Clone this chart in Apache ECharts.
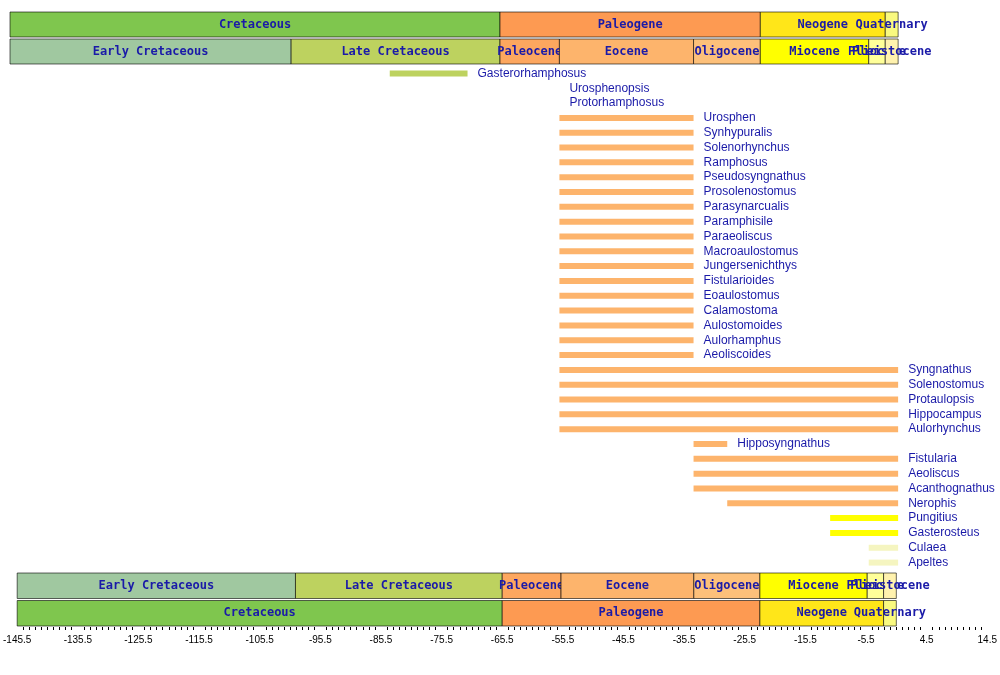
<!DOCTYPE html>
<html><head><meta charset="utf-8">
<script src="https://cdn.jsdelivr.net/npm/echarts@6/dist/echarts.min.js"></script>
<style>body{margin:0}#c{width:1000px;height:675px}</style></head>
<body><div id="c"></div>
<script>
// time scale bands: [name, start, end, colour]
var periods = [
    ['Cretaceous', -145.5, -65.5, '#7fc64e'],
    ['Paleogene', -65.5, -23.0, '#fd9a52'],
    ['Neogene', -23.0, -2.6, '#ffe619'],
    ['Quaternary', -2.6, -0.5, '#f9f97f']
];
var epochs = [
    ['Early Cretaceous', -145.5, -99.6, '#a0c8a0'],
    ['Late Cretaceous', -99.6, -65.5, '#bdd25f'],
    ['Paleocene', -65.5, -55.8, '#fda75f'],
    ['Eocene', -55.8, -33.9, '#fdb46c'],
    ['Oligocene', -33.9, -23.0, '#fdc07a'],
    ['Miocene', -23.0, -5.3, '#ffff00'],
    ['Pliocene', -5.3, -2.6, '#ffff99'],
    ['Pleistocene', -2.6, -0.5, '#fff2ae']
];
// taxa ranges
var taxa = ['Gasterorhamphosus','Urosphenopsis','Protorhamphosus','Urosphen','Synhypuralis','Solenorhynchus',
    'Ramphosus','Pseudosyngnathus','Prosolenostomus','Parasynarcualis','Paramphisile','Paraeoliscus',
    'Macroaulostomus','Jungersenichthys','Fistularioides','Eoaulostomus','Calamostoma','Aulostomoides',
    'Aulorhamphus','Aeoliscoides','Syngnathus','Solenostomus','Protaulopsis','Hippocampus','Aulorhynchus',
    'Hipposyngnathus','Fistularia','Aeoliscus','Acanthognathus','Nerophis','Pungitius','Gasterosteus',
    'Culaea','Apeltes'];
var starts = [-83.5,-55.8,-55.8,-55.8,-55.8,-55.8,-55.8,-55.8,-55.8,-55.8,-55.8,-55.8,-55.8,-55.8,-55.8,-55.8,-55.8,-55.8,
    -55.8,-55.8,-55.8,-55.8,-55.8,-55.8,-55.8,-33.9,-33.9,-33.9,-33.9,-28.4,-11.6,-11.6,-5.3,-5.3];
var ends = [-70.8,-55.8,-55.8,-33.9,-33.9,-33.9,-33.9,-33.9,-33.9,-33.9,-33.9,-33.9,-33.9,-33.9,-33.9,-33.9,-33.9,-33.9,
    -33.9,-33.9,-0.5,-0.5,-0.5,-0.5,-0.5,-28.4,-0.5,-0.5,-0.5,-0.5,-0.5,-0.5,-0.5,-0.5];
var barColors = ['#bdd25f','#fdb46c','#fdb46c'].concat(Array(27).fill('#fdb46c')).concat(['#ffff00','#ffff00','#f5f5c0','#f5f5c0']);

var txt = '#1a1aa8';
var xMin = -145.5, xMax = 14.5;

function bandSeries(rows, gridIdx) {
    var data = [];
    rows.forEach(function (r, ri) {
        r.forEach(function (b) { data.push([b[1], b[2], ri, b[0], b[3]]); });
    });
    return {
        type: 'custom', xAxisIndex: gridIdx, yAxisIndex: gridIdx, data: data,
        renderItem: function (params, api) {
            var p0 = api.coord([api.value(0), api.value(2)]);
            var p1 = api.coord([api.value(1), api.value(2)]);
            var h = api.size([0, 1])[1] - 2;
            var d = data[params.dataIndex];
            return {
                type: 'group', children: [
                    { type: 'rect', shape: { x: p0[0], y: p0[1] - h / 2, width: p1[0] - p0[0], height: h },
                      style: { fill: d[4], stroke: '#000', lineWidth: 0.6 } },
                    { type: 'text', style: { text: d[3], x: (p0[0] + p1[0]) / 2, y: p0[1], align: 'center',
                      verticalAlign: 'middle', fill: txt, font: 'bold 12px "DejaVu Sans Mono"' } }
                ]
            };
        }
    };
}

var grids = [
    { left: 10, right: 10, top: 11, height: 54 },
    { left: 10, right: 10, top: 66, height: 504 },
    { left: 10, right: 10, top: 572, height: 55 }
];
function xAx(i, show) {
    return { gridIndex: i, type: 'value', min: xMin, max: xMax, interval: 10, show: show,
        axisLine: { lineStyle: { color: '#000' } },
        axisTick: { length: 5, lineStyle: { color: '#000' } },
        minorTick: { show: true, splitNumber: 10, length: 3, lineStyle: { color: '#000' } },
        splitLine: { show: false },
        axisLabel: { fontSize: 10, color: '#000', fontFamily: 'Liberation Sans', formatter: function (v) { return v.toFixed(1); } } };
}
var taxaData = taxa.map(function (t, i) { return [starts[i], ends[i], i, t, barColors[i]]; });

var chart = echarts.init(document.getElementById('c'));
chart.setOption({
    animation: false,
    grid: grids,
    xAxis: [xAx(0, false), xAx(1, false), xAx(2, true)],
    yAxis: [
        { gridIndex: 0, type: 'category', data: ['p', 'e'], inverse: true, show: false },
        { gridIndex: 1, type: 'category', data: taxa, inverse: true, show: false },
        { gridIndex: 2, type: 'category', data: ['e', 'p'], inverse: true, show: false }
    ],
    series: [
        bandSeries([periods, epochs], 0),
        bandSeries([epochs, periods], 2),
        {
            type: 'custom', xAxisIndex: 1, yAxisIndex: 1, data: taxaData,
            renderItem: function (params, api) {
                var d = taxaData[params.dataIndex];
                var p0 = api.coord([d[0], d[2]]);
                var p1 = api.coord([d[1], d[2]]);
                return {
                    type: 'group', children: [
                        { type: 'rect', shape: { x: p0[0], y: p0[1] - 3, width: p1[0] - p0[0], height: 6 },
                          style: { fill: d[4] } },
                        { type: 'text', style: { text: d[3], x: p1[0] + 10, y: p0[1], verticalAlign: 'middle',
                          fill: txt, font: '12px "Liberation Sans"' } }
                    ]
                };
            }
        }
    ]
});
</script></body></html>
